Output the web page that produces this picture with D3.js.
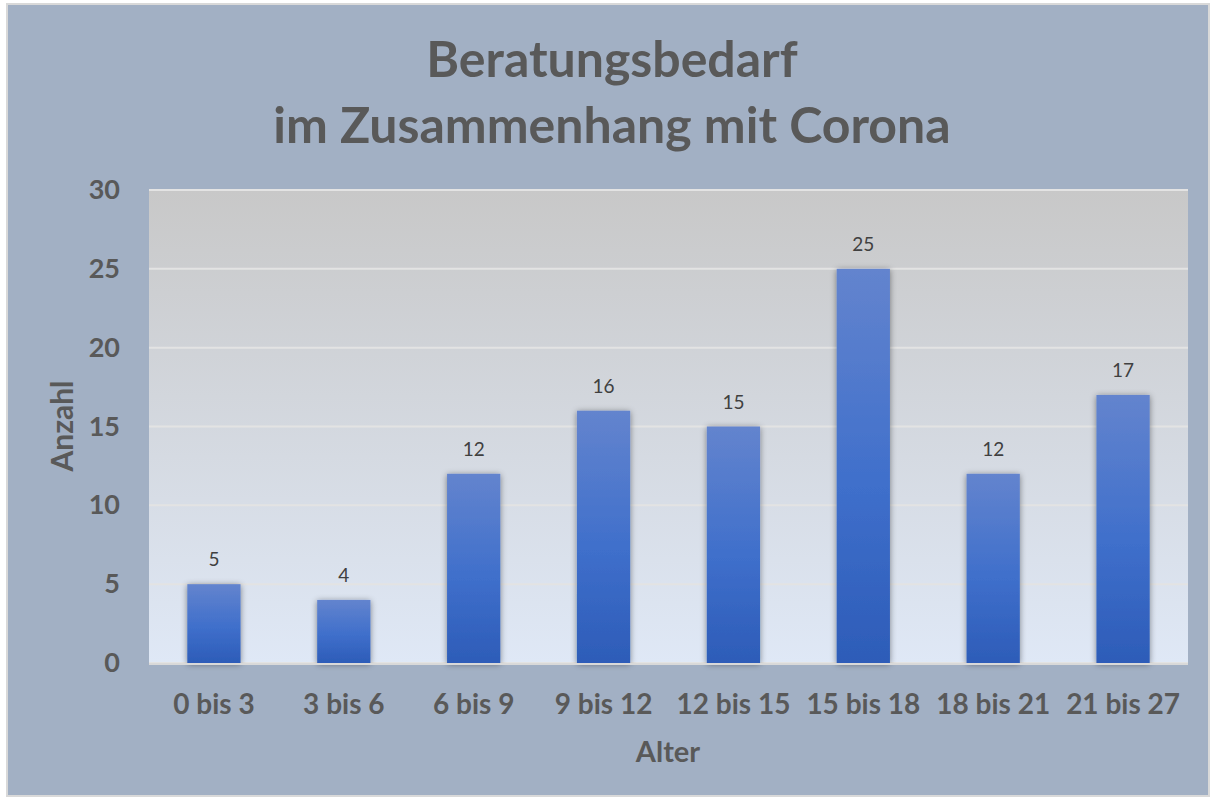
<!DOCTYPE html>
<html><head><meta charset="utf-8">
<script src="https://cdn.jsdelivr.net/npm/d3@7"></script>
<style>body{margin:0;background:#fff}svg{display:block}</style>
</head><body>
<script>
const categories = ["0 bis 3","3 bis 6","6 bis 9","9 bis 12","12 bis 15","15 bis 18","18 bis 21","21 bis 27"];
const values = [5,4,12,16,15,25,12,17];
const yTicks = [0,5,10,15,20,25,30];
const titleLines = ["Beratungsbedarf","im Zusammenhang mit Corona"];
const xTitle = "Alter", yTitle = "Anzahl";

const W = 1213, H = 800;
const font = "Lato, 'Open Sans', sans-serif";
const svg = d3.select("body").append("svg").attr("width", W).attr("height", H);
const defs = svg.append("defs");
const pg = defs.append("linearGradient").attr("id","plotg").attr("x1",0).attr("y1",0).attr("x2",0).attr("y2",1);
pg.append("stop").attr("offset","0%").attr("stop-color","#C8C8C8");
pg.append("stop").attr("offset","100%").attr("stop-color","#DFE8F6");
const bg = defs.append("linearGradient").attr("id","barg").attr("x1",0).attr("y1",0).attr("x2",0).attr("y2",1);
bg.append("stop").attr("offset","0%").attr("stop-color","#6384CE");
bg.append("stop").attr("offset","55%").attr("stop-color","#3F6FCB");
bg.append("stop").attr("offset","100%").attr("stop-color","#2D5CB8");
const sh = defs.append("filter").attr("id","shadow").attr("x","-30%").attr("y","-10%").attr("width","160%").attr("height","125%");
sh.append("feDropShadow").attr("dx",0).attr("dy",1).attr("stdDeviation",3).attr("flood-color","#000").attr("flood-opacity",0.45);

svg.append("rect").attr("x",7).attr("y",4).attr("width",W-11).attr("height",H-8)
  .attr("fill","#A2B0C4").attr("stroke","#D9D9D9").attr("stroke-width",2);

const m = {l:149, r:1188, t:190, b:663};
const x = d3.scaleBand().domain(categories).range([m.l, m.r]).paddingInner(0.59).paddingOuter(0.295);
const y = d3.scaleLinear().domain([0,30]).range([m.b, m.t]);

svg.append("rect").attr("x",m.l).attr("y",m.t).attr("width",m.r-m.l).attr("height",m.b-m.t).attr("fill","url(#plotg)");

svg.append("g").selectAll("line").data(yTicks).join("line")
  .attr("x1",m.l).attr("x2",m.r).attr("y1",d=>y(d)).attr("y2",d=>y(d))
  .attr("stroke","#E3E3E3").attr("stroke-width",2);

const yAxis = svg.append("g").attr("transform",`translate(${m.l},0)`)
  .call(d3.axisLeft(y).tickValues(yTicks).tickSize(0).tickPadding(29));
yAxis.select(".domain").remove();
yAxis.selectAll("text").attr("font-family",font).attr("font-weight","bold").attr("font-size",27).attr("fill","#595959");

svg.append("g").selectAll("rect").data(values).join("rect")
  .attr("x",(d,i)=>x(categories[i])).attr("width",x.bandwidth())
  .attr("y",d=>y(d)).attr("height",d=>y(0)-y(d))
  .attr("fill","url(#barg)").attr("filter","url(#shadow)");

svg.append("line").attr("x1",m.l).attr("x2",m.r).attr("y1",y(0)+1).attr("y2",y(0)+1)
  .attr("stroke","#D9D9D9").attr("stroke-width",2);

svg.append("g").selectAll("text").data(values).join("text")
  .attr("x",(d,i)=>x(categories[i])+x.bandwidth()/2).attr("y",d=>y(d)-18)
  .attr("text-anchor","middle").attr("font-family",font).attr("font-size",19).attr("fill","#404040")
  .text(d=>d);

const xAxis = svg.append("g").attr("transform",`translate(0,${m.b})`)
  .call(d3.axisBottom(x).tickSize(0).tickPadding(31));
xAxis.select(".domain").remove();
xAxis.selectAll("text").attr("font-family",font).attr("font-weight","bold").attr("font-size",28).attr("fill","#595959");

svg.append("text").attr("x",668).attr("y",762).attr("text-anchor","middle")
  .attr("font-family",font).attr("font-weight","bold").attr("font-size",29).attr("fill","#595959").text(xTitle);
svg.append("text").attr("transform","translate(73,426) rotate(-90)").attr("text-anchor","middle")
  .attr("font-family",font).attr("font-weight","bold").attr("font-size",30).attr("fill","#595959").text(yTitle);

svg.append("g").selectAll("text").data(titleLines).join("text")
  .attr("x",612).attr("y",(d,i)=>77+i*66).attr("text-anchor","middle")
  .attr("font-family",font).attr("font-weight","bold").attr("font-size",50).attr("fill","#595959").text(d=>d);
</script>
</body></html>
